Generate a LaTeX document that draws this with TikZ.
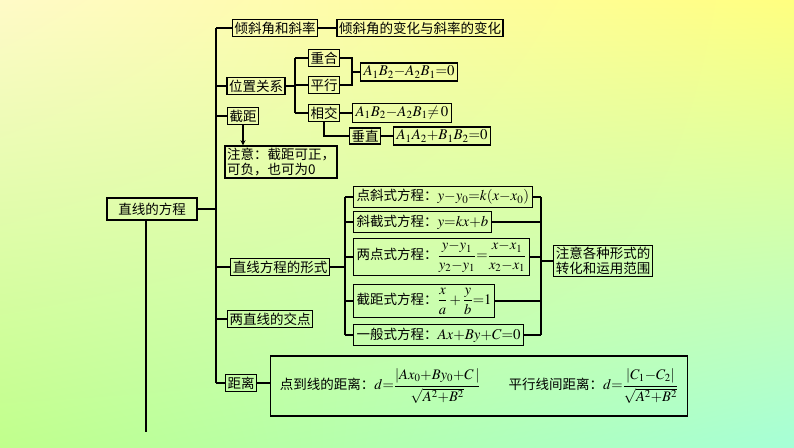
\documentclass[tikz,border=0pt]{standalone}
\usepackage{amsmath}
\usepackage{mathptmx}
\usepackage{graphicx}
\usepackage{fontspec}
\usetikzlibrary{shadings}
\newfontfamily\cjk{Noto Sans CJK SC}
\newcommand\mth[1]{\scalebox{1.1}{$#1$}}
\newcommand\mtf[1]{\scalebox{1.08}{$#1$}}
\begin{document}
\begin{tikzpicture}[x=1pt,y=-1pt,
  bx/.style={draw,line width=1.3pt,inner sep=2pt,font=\cjk\fontsize{13.5}{15}\selectfont},
  ln/.style={line width=1.3pt}]
\useasboundingbox (0,0) rectangle (794,447);
\shade[upper left=orange!18!yellow!22,upper right=yellow!50,lower left=green!55!yellow!45,lower right=green!45!cyan!35] (0,0) rectangle (794,447);
% main
\node[bx,minimum width=90,minimum height=22] (m) at (152,209) {直线的方程};
\coordinate (t0) at (146,220); \coordinate (t1) at (146,432);
\draw[ln] (t0)--(t1);
\coordinate (s0) at (216,28); \coordinate (s1) at (216,383); \coordinate (sm) at (216,209);
\draw[ln] (m.east)--(sm); \draw[ln] (s0)--(s1);
% level 1
\node[bx] (a) at (275,28) {倾斜角和斜率};
\node[bx] (a2) at (420,28) {倾斜角的变化与斜率的变化};
\node[bx] (b) at (256,86) {位置关系};
\node[bx] (c) at (243,116) {截距};
\node[bx,align=left] (cn) at (281,162) {注意：截距可正，\\可负，也可为0};
\node[bx] (d) at (280,267) {直线方程的形式};
\node[bx] (e) at (270,319) {两直线的交点};
\node[bx] (f) at (241,383) {距离};
\foreach \n in {a,b,c,d,e,f} \draw[ln] (\n.west)--(216,0|-\n.west);
\draw[ln] (a)--(a2);
\draw[ln,-stealth] (c)--(cn.north-|c);
% position
\node[bx] (p1) at (324,58) {重合};
\node[bx] (p2) at (324,85) {平行};
\node[bx] (p3) at (324,113) {相交};
\node[bx,anchor=west,inner sep=3pt] (q1) at (360,72) {\mth{A_1B_2{-}A_2B_1{=}0}};
\node[bx,anchor=west,inner sep=3pt] (q2) at (352,113) {\mth{A_1B_2{-}A_2B_1{\neq}\,0}};
\node[bx] (p4) at (365,136) {垂直};
\node[bx,anchor=west,inner sep=3pt] (q3) at (393,136) {\mth{A_1A_2{+}B_1B_2{=}0}};
\coordinate (bp0) at (295,58); \coordinate (bp1) at (295,113);
\draw[ln] (b.east)--(295,0|-b.east); \draw[ln] (bp0)--(bp1);
\foreach \n in {p1,p2,p3} \draw[ln] (\n.west)--(295,0|-\n.west);
\coordinate (bq0) at (352,58); \coordinate (bq1) at (352,85);
\draw[ln] (p1.east)--(bq0)--(bq1)--(p2.east); \draw[ln] (352,72)--(q1.west);
\draw[ln] (p3)--(q2);
\draw[ln] (p3.south)--(p3.south|-p4)--(p4.west);
\draw[ln] (p4)--(q3);
% forms
\tikzset{fm/.style={bx,anchor=west,inner sep=3pt}}
\node[fm] (f1) at (353,197) {点斜式方程：\mth{y{-}y_0{=}k(x{-}x_0)}};
\node[fm] (f2) at (353,222) {斜截式方程：\mth{y{=}kx{+}b}};
\node[fm] (f3) at (353,257) {两点式方程：\mtf{\dfrac{y{-}y_1}{y_2{-}y_1}{=}\dfrac{x{-}x_1}{x_2{-}x_1}}};
\node[fm] (f4) at (353,301) {截距式方程：\mtf{\dfrac{x}{a}+\dfrac{y}{b}{=}1}};
\node[fm] (f5) at (353,335) {一般式方程：\mth{Ax{+}By{+}C{=}0}};
\node[bx,align=left] (g) at (603,261) {注意各种形式的\\转化和运用范围};
\draw[ln] (d.east)--(345,0|-d.east); \draw[ln] (345,197)--(345,335);
\draw[ln] (541,197)--(541,335); \draw[ln] (541,0|-g.west)--(g.west);
\foreach \n in {f1,f2,f3,f4,f5} {\draw[ln] (\n.west)--(345,0|-\n.west); \draw[ln] (\n.east)--(541,0|-\n.east);}
% distance
\node[bx,anchor=west,minimum width=417,minimum height=60,inner sep=6pt] (h) at (270,386) {点到线的距离：\mtf{d{=}\dfrac{|Ax_0{+}By_0{+}C\,|}{\sqrt{A^2{+}B^2}}}\hspace{28pt}平行线间距离：\mtf{d{=}\dfrac{|C_1{-}C_2|}{\sqrt{A^2{+}B^2}}}};
\draw[ln] (f)--(f.east-|h.west);
\end{tikzpicture}
\end{document}
